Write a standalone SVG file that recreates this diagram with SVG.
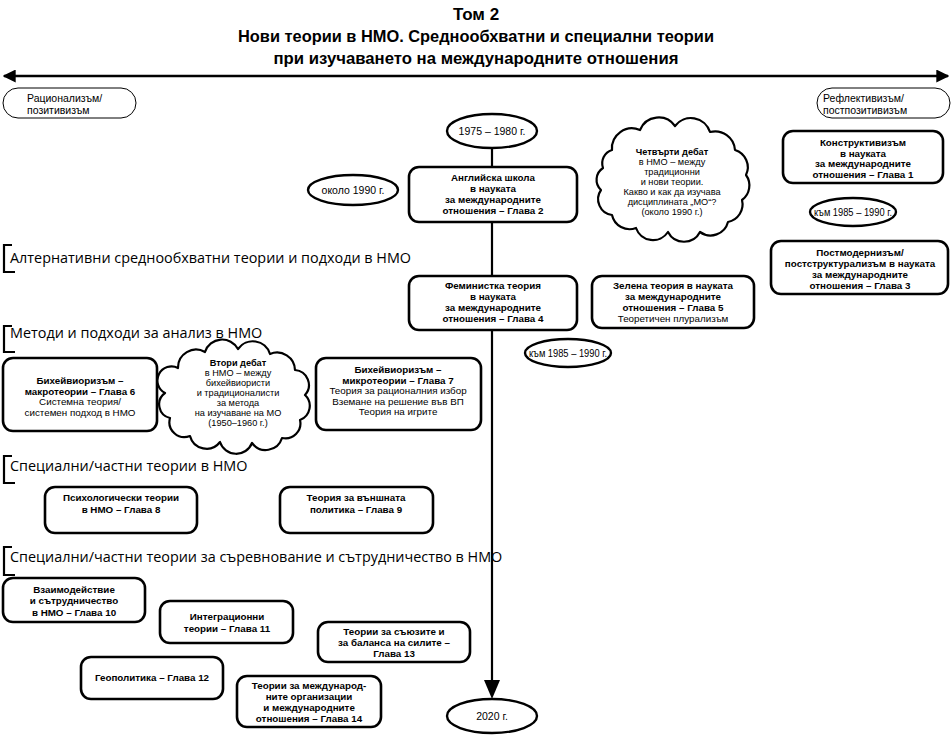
<svg xmlns="http://www.w3.org/2000/svg" width="952" height="735" viewBox="0 0 952 735">
<style>
.box{fill:#fff;stroke:#000;stroke-width:2.6}
.ell{fill:#fff;stroke:#000;stroke-width:2.4}
.pill{fill:#fff;stroke:#000;stroke-width:1}
.cloud{fill:#fff;stroke:#000;stroke-width:2.2;stroke-linejoin:round}
.br{fill:none;stroke:#000;stroke-width:2.2}
text{font-family:"Liberation Sans",Arial,sans-serif;fill:#000}
.t{font-size:9.8px;text-anchor:middle}
.s{font-size:9.2px;text-anchor:middle}
.e{font-size:10.5px;text-anchor:middle}
.b{font-weight:bold}
.sec{font-family:"Open Sans","Noto Sans",sans-serif;font-size:14.4px}
.ttl{font-family:"Liberation Sans Narrow","Liberation Sans",sans-serif;font-weight:bold;font-size:17px;text-anchor:middle}
.sm{font-family:"Liberation Sans Narrow","Liberation Sans",sans-serif;font-size:10.5px}
</style>
<defs>
<marker id="ah" viewBox="0 0 10 10" refX="9" refY="5" markerWidth="5" markerHeight="5" orient="auto-start-reverse" markerUnits="strokeWidth">
<path d="M0,0 L10,5 L0,10 z" fill="#000"/>
</marker>
</defs>
<rect width="952" height="735" fill="#fff"/>

<g id="title">
<text class="ttl" x="476" y="20">Том 2</text>
<text class="ttl" x="476" y="42" textLength="476" lengthAdjust="spacingAndGlyphs">Нови теории в НМО. Среднообхватни и специални теории</text>
<text class="ttl" x="476" y="64" textLength="405" lengthAdjust="spacingAndGlyphs">при изучаването на международните отношения</text>
</g>

<g id="connectors">
<line x1="4" y1="76" x2="948" y2="76" stroke="#000" stroke-width="2.6" marker-start="url(#ah)" marker-end="url(#ah)"/>
<line x1="492" y1="148" x2="492" y2="684" stroke="#000" stroke-width="2.2"/>
<path d="M484,680 L500,680 L492,699 z" fill="#000"/>
</g>

<g id="pill-left">
<rect class="pill" x="3" y="88" width="133" height="30" rx="15"/>
<text class="sm" x="27" y="102">Рационализъм/</text>
<text class="sm" x="27" y="114">позитивизъм</text>
</g>
<g id="pill-right">
<rect class="pill" x="817" y="88" width="133" height="30" rx="15"/>
<text class="sm" x="823" y="102">Рефлективизъм/</text>
<text class="sm" x="823" y="114">постпозитивизъм</text>
</g>

<g id="sections">
<path class="br" d="M12,245 H4 V272 H15"/>
<text class="sec" x="10" y="263">Алтернативни среднообхватни теории и подходи в НМО</text>
<path class="br" d="M12,326 H4 V352 H15"/>
<text class="sec" x="10" y="338">Методи и подходи за анализ в НМО</text>
<path class="br" d="M12,456 H4 V483 H15"/>
<text class="sec" x="10" y="471">Специални/частни теории в НМО</text>
<path class="br" d="M12,547 H4 V575 H15"/>
<text class="sec" x="10" y="562">Специални/частни теории за съревнование и сътрудничество в НМО</text>
</g>

<g id="e1975">
<ellipse class="ell" cx="492" cy="131" rx="45" ry="17"/>
<text class="e" x="492" y="135">1975 – 1980 г.</text>
</g>
<g id="e1990">
<ellipse class="ell" cx="353" cy="190" rx="45" ry="15"/>
<text class="e" x="353" y="194">около 1990 г.</text>
</g>
<g id="english">
<rect class="box" x="409" y="167" width="168" height="55" rx="10"/>
<text class="t b" x="493" y="181">Английска школа</text>
<text class="t b" x="493" y="192">в науката</text>
<text class="t b" x="493" y="203">за международните</text>
<text class="t b" x="493" y="214">отношения – Глава 2</text>
</g>

<g id="cloud4">
<path class="cloud" d="M612,150 A20,20 0 0 1 640,130 A20,20 0 0 1 675,126 A20,20 0 0 1 710,132 A20,20 0 0 1 735,150 A18,18 0 0 1 746,175 A18,18 0 0 1 742,200 A18,18 0 0 1 728,222 A18,18 0 0 1 700,232 A18,18 0 0 1 668,232 A18,18 0 0 1 636,228 A18,18 0 0 1 612,215 A16,16 0 0 1 601,190 A14,14 0 0 1 603,168 A14,14 0 0 1 612,150 z"/>
<text class="s b" x="672" y="155">Четвърти дебат</text>
<text class="s" x="672" y="165">в НМО – между</text>
<text class="s" x="672" y="175">традиционни</text>
<text class="s" x="672" y="185">и нови теории.</text>
<text class="s" x="672" y="195">Какво и как да изучава</text>
<text class="s" x="672" y="205">дисциплината „МО“?</text>
<text class="s" x="672" y="215">(около 1990 г.)</text>
</g>

<g id="constr">
<rect class="box" x="783" y="131" width="160" height="52" rx="10"/>
<text class="t b" x="863" y="146">Конструктивизъм</text>
<text class="t b" x="863" y="156.6">в науката</text>
<text class="t b" x="863" y="167.2">за международните</text>
<text class="t b" x="863" y="177.8">отношения – Глава 1</text>
</g>
<g id="e1985a">
<ellipse class="ell" cx="853" cy="212" rx="43" ry="14"/>
<text class="e" x="853" y="215.5" textLength="78" lengthAdjust="spacingAndGlyphs">към 1985 – 1990 г.</text>
</g>
<g id="postmod">
<rect class="box" x="771" y="241" width="177" height="53" rx="10"/>
<text class="t b" x="860" y="256">Постмодернизъм/</text>
<text class="t b" x="860" y="267">постструктурализъм в науката</text>
<text class="t b" x="860" y="278">за международните</text>
<text class="t b" x="860" y="289">отношения – Глава 3</text>
</g>

<g id="feminist">
<rect class="box" x="409" y="276" width="168" height="54" rx="10"/>
<text class="t b" x="493" y="289">Феминистка теория</text>
<text class="t b" x="493" y="300">в науката</text>
<text class="t b" x="493" y="311">за международните</text>
<text class="t b" x="493" y="322">отношения – Глава 4</text>
</g>
<g id="green">
<rect class="box" x="592" y="276" width="162" height="52" rx="10"/>
<text class="t b" x="673" y="289">Зелена теория в науката</text>
<text class="t b" x="673" y="300">за международните</text>
<text class="t b" x="673" y="311">отношения – Глава 5</text>
<text class="t" x="673" y="322">Теоретичен плурализъм</text>
</g>
<g id="e1985b">
<ellipse class="ell" cx="568" cy="353" rx="43" ry="14"/>
<text class="e" x="568" y="356.5" textLength="78" lengthAdjust="spacingAndGlyphs">към 1985 – 1990 г.</text>
</g>

<g id="macro">
<rect class="box" x="3" y="358" width="154" height="73" rx="10"/>
<text class="t b" x="80" y="384">Бихейвиоризъм –</text>
<text class="t b" x="80" y="394.6">макротеории – Глава 6</text>
<text class="t" x="80" y="405.2">Системна теория/</text>
<text class="t" x="80" y="415.8">системен подход в НМО</text>
</g>
<g id="cloud2">
<path class="cloud" d="M178,368 A18,18 0 0 1 205,352 A18,18 0 0 1 238,349 A18,18 0 0 1 270,354 A18,18 0 0 1 295,370 A15,15 0 0 1 305,395 A15,15 0 0 1 300,420 A15,15 0 0 1 282,438 A17,17 0 0 1 252,443 A17,17 0 0 1 220,442 A17,17 0 0 1 190,436 A15,15 0 0 1 170,418 A14,14 0 0 1 165,393 A14,14 0 0 1 178,368 z"/>
<text class="s b" x="238" y="366">Втори дебат</text>
<text class="s" x="238" y="376">в НМО – между</text>
<text class="s" x="238" y="386">бихейвиористи</text>
<text class="s" x="238" y="396">и традиционалисти</text>
<text class="s" x="238" y="406">за метода</text>
<text class="s" x="238" y="416">на изучаване на МО</text>
<text class="s" x="238" y="426">(1950–1960 г.)</text>
</g>
<g id="micro">
<rect class="box" x="316" y="358" width="165" height="72" rx="10"/>
<text class="t b" x="398" y="373">Бихейвиоризъм –</text>
<text class="t b" x="398" y="383.6">микротеории – Глава 7</text>
<text class="t" x="398" y="394.2">Теория за рационалния избор</text>
<text class="t" x="398" y="404.8">Вземане на решение във ВП</text>
<text class="t" x="398" y="415.4">Теория на игрите</text>
</g>

<g id="psych">
<rect class="box" x="45" y="487" width="152" height="46" rx="10"/>
<text class="t b" x="121" y="501">Психологически теории</text>
<text class="t b" x="121" y="513">в НМО – Глава 8</text>
</g>
<g id="foreign">
<rect class="box" x="280" y="487" width="153" height="46" rx="10"/>
<text class="t b" x="356" y="501">Теория за външната</text>
<text class="t b" x="356" y="513">политика – Глава 9</text>
</g>

<g id="ch10">
<rect class="box" x="3" y="578" width="142" height="44" rx="10"/>
<text class="t b" x="74" y="592.5">Взаимодействие</text>
<text class="t b" x="74" y="604">и сътрудничество</text>
<text class="t b" x="74" y="615.5">в НМО – Глава 10</text>
</g>
<g id="ch11">
<rect class="box" x="160" y="601" width="133" height="42" rx="10"/>
<text class="t b" x="227" y="620">Интеграционни</text>
<text class="t b" x="227" y="632">теории – Глава 11</text>
</g>
<g id="ch12">
<rect class="box" x="81" y="657" width="142" height="42" rx="10"/>
<text class="t b" x="152" y="681">Геополитика – Глава 12</text>
</g>
<g id="ch13">
<rect class="box" x="318" y="622" width="152" height="40" rx="10"/>
<text class="t b" x="394" y="635">Теории за съюзите и</text>
<text class="t b" x="394" y="646">за баланса на силите –</text>
<text class="t b" x="394" y="657">Глава 13</text>
</g>
<g id="ch14">
<rect class="box" x="237" y="676" width="144" height="51" rx="10"/>
<text class="t b" x="309" y="689">Теории за международ-</text>
<text class="t b" x="309" y="700">ните организации</text>
<text class="t b" x="309" y="711">и международните</text>
<text class="t b" x="309" y="722">отношения – Глава 14</text>
</g>
<g id="e2020">
<ellipse class="ell" cx="492" cy="716" rx="45" ry="17"/>
<text class="e" x="492" y="719.5">2020 г.</text>
</g>
</svg>
